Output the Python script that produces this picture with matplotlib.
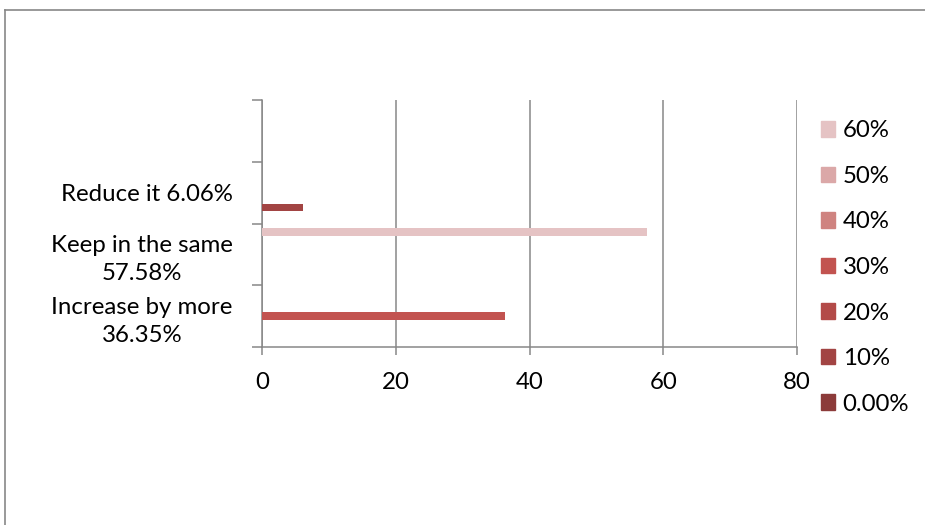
import matplotlib.pyplot as plt
from matplotlib.patches import Patch
from matplotlib.lines import Line2D
import numpy as np

plt.rcParams['font.family'] = ['Lato', 'DejaVu Sans']

# categories from bottom to top (the top slot is empty in the source)
categories = ["Increase by more\n36.35%", "Keep in the same\n57.58%", "Reduce it 6.06%", ""]
series_names = ["0.00%", "10%", "20%", "30%", "40%", "50%", "60%"]
series_colors = ["#8C3B3A", "#A24443", "#B34A48", "#C25350", "#CF8380", "#DBA8A8", "#E5C3C4"]
# one value per category for each series (0 = no bar)
series_values = [
    [0, 0, 0, 0],
    [0, 0, 6.06, 0],
    [0, 0, 0, 0],
    [36.35, 0, 0, 0],
    [0, 0, 0, 0],
    [0, 0, 0, 0],
    [0, 57.58, 0, 0],
]
x_ticks = [0, 20, 40, 60, 80]

grey = "#878787"
fs = 17.3
fig = plt.figure(figsize=(9.25, 5.25), dpi=100)
ax = fig.add_axes([262 / 925, 1 - 347 / 525, 535 / 925, 247 / 525])

y = np.arange(len(categories))
bar_h = 0.122
n = len(series_names)
for i, (vals, col) in enumerate(zip(series_values, series_colors)):
    ax.barh(y + (i - (n - 1) / 2) * bar_h, vals, height=bar_h, color=col, zorder=3)

ax.set_xlim(0, 80)
ax.set_ylim(-0.5, len(categories) - 0.5)
ax.set_xticks(x_ticks)
ax.xaxis.grid(True, color=grey, linewidth=1.1, zorder=0)

# category boundaries get tick marks, the labels sit on the centres
ax.set_yticks(np.arange(len(categories) + 1) - 0.5)
ax.set_yticklabels([])
ax.set_yticks(y, minor=True)
ax.set_yticklabels(categories, minor=True, fontsize=fs, multialignment='center', linespacing=1.4)
ax.tick_params(axis='y', which='minor', length=0, pad=21)
ax.tick_params(axis='y', which='major', length=7, width=1.1, color=grey, direction='out')
ax.tick_params(axis='x', length=6, width=1.1, color=grey, labelsize=fs, pad=12)

for side in ['top', 'right']:
    ax.spines[side].set_visible(False)
for side in ['left', 'bottom']:
    ax.spines[side].set_color(grey)
    ax.spines[side].set_linewidth(1.1)

handles = [Patch(color=c, label=s) for s, c in zip(series_names, series_colors)][::-1]
fig.legend(handles=handles, loc='center left', bbox_to_anchor=(821 / 925, 1 - 267.5 / 525),
           frameon=False, fontsize=fs, handlelength=0.6, handleheight=0.6,
           handletextpad=0.3, labelspacing=1.02, borderpad=0, borderaxespad=0)

# outer chart border (only top and left visible)
fig.add_artist(Line2D([5 / 925, 1], [1 - 10 / 525, 1 - 10 / 525], color=grey, linewidth=1.2))
fig.add_artist(Line2D([5 / 925, 5 / 925], [0, 1 - 10 / 525], color=grey, linewidth=1.2))

fig.savefig("out.png", dpi=100)
